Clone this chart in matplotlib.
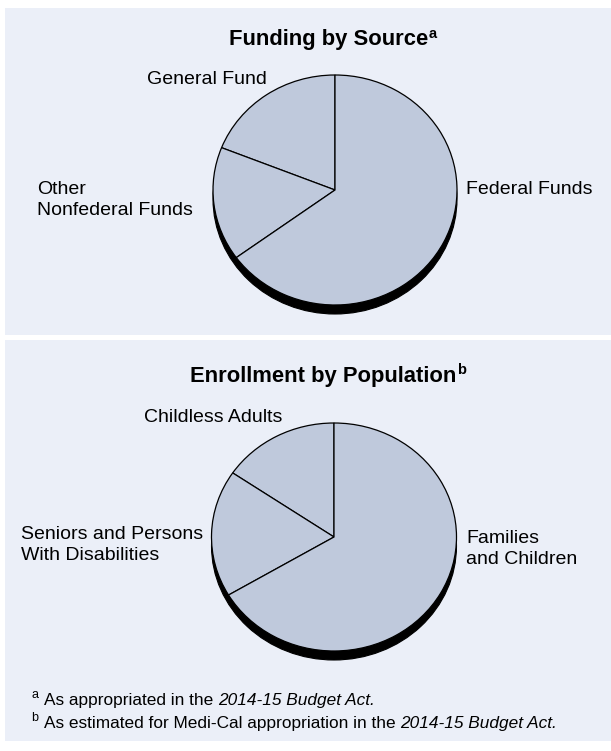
import numpy as np
import matplotlib
matplotlib.use("Agg")
import matplotlib.pyplot as plt
from matplotlib.patches import Rectangle, Ellipse

FONT = "Liberation Sans"
W, H = 611, 751

# data (shares in percent)
funding_labels = ["General Fund", "Other\nNonfederal Funds", "Federal Funds"]
funding_share = [19.0, 16.0, 65.0]

enroll_labels = ["Childless Adults", "Seniors and Persons\nWith Disabilities",
                 "Families\nand Children"]
enroll_share = [15.5, 18.0, 66.5]

titles = [("Funding by Source", "a"), ("Enrollment by Population", "b")]
notes = [("a", "As appropriated in the ", "2014-15 Budget Act."),
         ("b", "As estimated for Medi-Cal appropriation in the ", "2014-15 Budget Act.")]

PANEL = "#ebeff8"
FILL = "#bfc9dc"

fig = plt.figure(figsize=(W / 100, H / 100), dpi=100)
bg = fig.add_axes([0, 0, 1, 1])
bg.set_xlim(0, W)
bg.set_ylim(H, 0)
bg.axis("off")

# two shaded panels
bg.add_patch(Rectangle((5, 8), W - 5, 327, fc=PANEL, ec="none", zorder=0))
bg.add_patch(Rectangle((5, 340), W - 5, 401, fc=PANEL, ec="none", zorder=0))


def pie(values, cx, cy, rx, ry, drop):
    m = 1.12
    ax = fig.add_axes([(cx - rx * m) / W, 1 - (cy + ry * m) / H,
                       2 * rx * m / W, 2 * ry * m / H])
    ax.add_patch(Ellipse((0, -drop / ry), 2, 2, fc="black", ec="black",
                         lw=0.8, zorder=0))
    ax.pie(values, radius=1, startangle=90, counterclock=True,
           colors=[FILL] * len(values),
           wedgeprops=dict(edgecolor="black", linewidth=0.9))
    ax.set_aspect("auto")
    ax.set_xlim(-m, m)
    ax.set_ylim(-m, m)
    ax.axis("off")
    return ax


def title(x, y, text, sup):
    t = bg.text(x, y, text, ha="center", va="baseline", fontsize=15.8,
                fontweight="bold", family=FONT)
    bg.annotate(sup, xy=(1, 1), xycoords=t, xytext=(0.3, 1.8),
                textcoords="offset points", ha="left", va="top",
                fontsize=10.5, fontweight="bold", family=FONT)


def label(x, y, text, ha="left"):
    bg.text(x, y, text, ha=ha, va="center", fontsize=14, family=FONT,
            linespacing=1.28, multialignment="left")


# panel 1
title(329, 45, *titles[0])
pie(funding_share, 335, 190, 122, 115, 9)
label(267, 80, funding_labels[0], ha="right")
label(37, 200, funding_labels[1])
label(466, 189, funding_labels[2])

# panel 2
title(323, 382, *titles[1])
pie(enroll_share, 334, 537, 122.5, 114, 9)
label(282, 417, enroll_labels[0], ha="right")
label(21, 545, enroll_labels[1])
label(466, 549, enroll_labels[2])

# footnotes
for i, (mark, plain, ital) in enumerate(notes):
    y = 705 + 23 * i
    bg.text(31, y - 7, mark, ha="left", va="baseline", fontsize=9,
            family=FONT)
    t = bg.text(44, y, plain, ha="left", va="baseline", fontsize=12.4,
                family=FONT)
    bg.annotate(ital, xy=(1, 0), xycoords=t, ha="left", va="bottom",
                fontsize=12.4, style="italic", family=FONT)

fig.savefig("out.png", dpi=100, facecolor="white")
